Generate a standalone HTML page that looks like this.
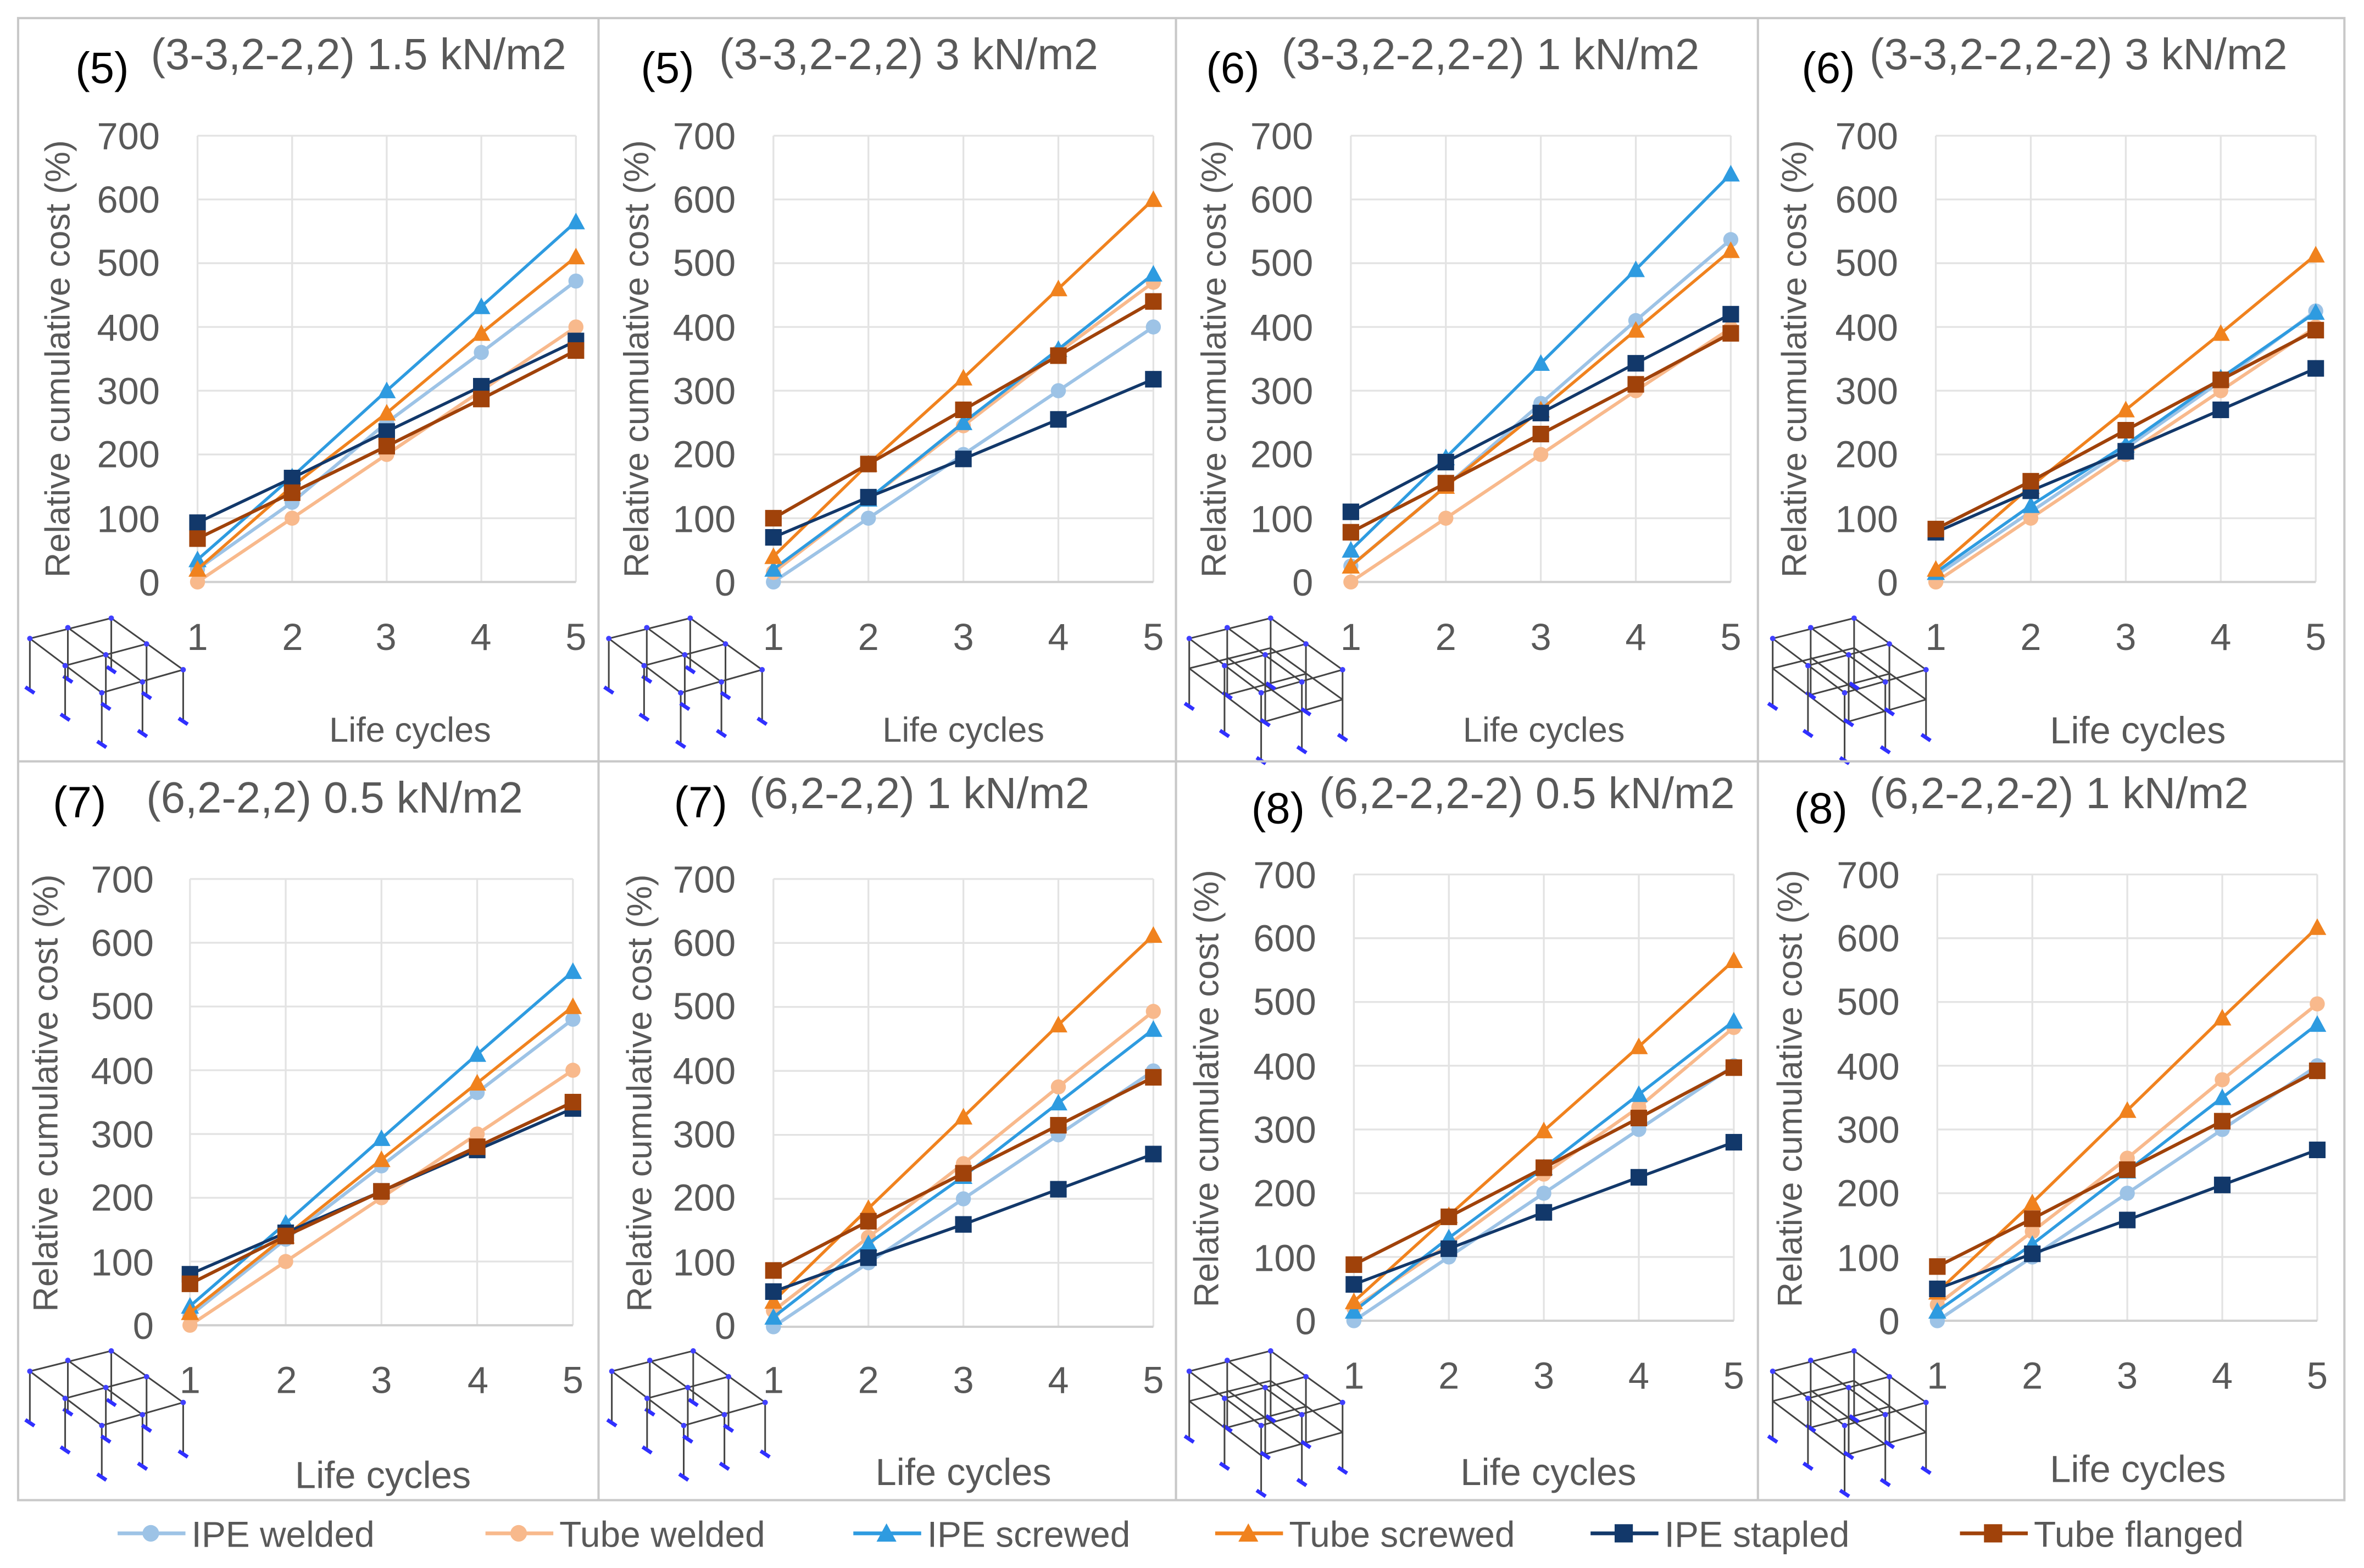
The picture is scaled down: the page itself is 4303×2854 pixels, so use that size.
<!DOCTYPE html>
<html><head><meta charset="utf-8"><style>
html,body{margin:0;padding:0;background:#fff;}
svg{display:block;}
text{font-family:"Liberation Sans",sans-serif;}
.t{font-size:25px;fill:#595959;}
.ti{font-size:29px;fill:#595959;}
.tn{font-size:29px;fill:#000;}
.ax{font-size:23px;fill:#595959;}
.lg{font-size:24px;fill:#595959;}
</style></head><body>
<svg id="s" width="4303" height="2854" viewBox="0 0 1568 1040" xmlns="http://www.w3.org/2000/svg">
<rect x="0" y="0" width="1568" height="1040" fill="#fff"/>
<g id="g"></g>
<g stroke="#c8c8c8" stroke-width="1.5" fill="none">
<rect x="12" y="12" width="1543" height="983"/>
<line x1="397" y1="12" x2="397" y2="995"/><line x1="780" y1="12" x2="780" y2="995"/><line x1="1166" y1="12" x2="1166" y2="995"/>
<line x1="12" y1="505" x2="1555" y2="505"/>
</g>
<!-- titles -->
<text class="tn" x="50" y="55">(5)</text><text class="ti" x="100" y="46">(3-3,2-2,2) 1.5 kN/m2</text>
<text class="tn" x="425" y="55">(5)</text><text class="ti" x="477" y="46">(3-3,2-2,2) 3 kN/m2</text>
<text class="tn" x="800" y="55">(6)</text><text class="ti" x="850" y="46">(3-3,2-2,2-2) 1 kN/m2</text>
<text class="tn" x="1195" y="55">(6)</text><text class="ti" x="1240" y="46">(3-3,2-2,2-2) 3 kN/m2</text>
<text class="tn" x="35" y="542">(7)</text><text class="ti" x="97" y="539">(6,2-2,2) 0.5 kN/m2</text>
<text class="tn" x="447" y="542">(7)</text><text class="ti" x="497" y="536">(6,2-2,2) 1 kN/m2</text>
<text class="tn" x="830" y="546">(8)</text><text class="ti" x="875" y="536">(6,2-2,2-2) 0.5 kN/m2</text>
<text class="tn" x="1190" y="546">(8)</text><text class="ti" x="1240" y="536">(6,2-2,2-2) 1 kN/m2</text>
<!-- y axis titles -->
<text class="ax" transform="translate(46,238) rotate(-90)" text-anchor="middle">Relative cumulative cost (%)</text>
<text class="ax" transform="translate(430,238) rotate(-90)" text-anchor="middle">Relative cumulative cost (%)</text>
<text class="ax" transform="translate(813,238) rotate(-90)" text-anchor="middle">Relative cumulative cost (%)</text>
<text class="ax" transform="translate(1198,238) rotate(-90)" text-anchor="middle">Relative cumulative cost (%)</text>
<text class="ax" transform="translate(38,725) rotate(-90)" text-anchor="middle">Relative cumulative cost (%)</text>
<text class="ax" transform="translate(432,725) rotate(-90)" text-anchor="middle">Relative cumulative cost (%)</text>
<text class="ax" transform="translate(808,722) rotate(-90)" text-anchor="middle">Relative cumulative cost (%)</text>
<text class="ax" transform="translate(1195,722) rotate(-90)" text-anchor="middle">Relative cumulative cost (%)</text>
<!-- x axis titles -->
<text class="ax" x="272" y="492" text-anchor="middle">Life cycles</text>
<text class="ax" x="639" y="492" text-anchor="middle">Life cycles</text>
<text class="ax" x="1024" y="492" text-anchor="middle">Life cycles</text>
<text class="ti" x="1418" y="493" text-anchor="middle" style="font-size:25px">Life cycles</text>
<text class="ti" x="254" y="987" text-anchor="middle" style="font-size:25px">Life cycles</text>
<text class="ti" x="639" y="985" text-anchor="middle" style="font-size:25px">Life cycles</text>
<text class="ti" x="1027" y="985" text-anchor="middle" style="font-size:25px">Life cycles</text>
<text class="ti" x="1418" y="983" text-anchor="middle" style="font-size:25px">Life cycles</text>
<!-- y tick labels -->
<g class="t" text-anchor="end">
<text x="106" y="99">700</text><text x="106" y="141">600</text><text x="106" y="183">500</text><text x="106" y="226">400</text><text x="106" y="268">300</text><text x="106" y="310">200</text><text x="106" y="353">100</text><text x="106" y="395">0</text>
<text x="488" y="99">700</text><text x="488" y="141">600</text><text x="488" y="183">500</text><text x="488" y="226">400</text><text x="488" y="268">300</text><text x="488" y="310">200</text><text x="488" y="353">100</text><text x="488" y="395">0</text>
<text x="871" y="99">700</text><text x="871" y="141">600</text><text x="871" y="183">500</text><text x="871" y="226">400</text><text x="871" y="268">300</text><text x="871" y="310">200</text><text x="871" y="353">100</text><text x="871" y="395">0</text>
<text x="1259" y="99">700</text><text x="1259" y="141">600</text><text x="1259" y="183">500</text><text x="1259" y="226">400</text><text x="1259" y="268">300</text><text x="1259" y="310">200</text><text x="1259" y="353">100</text><text x="1259" y="395">0</text>
<text x="102" y="592">700</text><text x="102" y="634">600</text><text x="102" y="676">500</text><text x="102" y="719">400</text><text x="102" y="761">300</text><text x="102" y="803">200</text><text x="102" y="846">100</text><text x="102" y="888">0</text>
<text x="488" y="592">700</text><text x="488" y="634">600</text><text x="488" y="676">500</text><text x="488" y="719">400</text><text x="488" y="761">300</text><text x="488" y="803">200</text><text x="488" y="846">100</text><text x="488" y="888">0</text>
<text x="873" y="589">700</text><text x="873" y="631">600</text><text x="873" y="673">500</text><text x="873" y="716">400</text><text x="873" y="758">300</text><text x="873" y="800">200</text><text x="873" y="843">100</text><text x="873" y="885">0</text>
<text x="1260" y="589">700</text><text x="1260" y="631">600</text><text x="1260" y="673">500</text><text x="1260" y="716">400</text><text x="1260" y="758">300</text><text x="1260" y="800">200</text><text x="1260" y="843">100</text><text x="1260" y="885">0</text>
</g>
<!-- x tick labels -->
<g class="t" text-anchor="middle">
<text x="131" y="431">1</text><text x="194" y="431">2</text><text x="256" y="431">3</text><text x="319" y="431">4</text><text x="382" y="431">5</text>
<text x="513" y="431">1</text><text x="576" y="431">2</text><text x="639" y="431">3</text><text x="702" y="431">4</text><text x="765" y="431">5</text>
<text x="896" y="431">1</text><text x="959" y="431">2</text><text x="1022" y="431">3</text><text x="1085" y="431">4</text><text x="1148" y="431">5</text>
<text x="1284" y="431">1</text><text x="1347" y="431">2</text><text x="1410" y="431">3</text><text x="1473" y="431">4</text><text x="1536" y="431">5</text>
<text x="126" y="924">1</text><text x="190" y="924">2</text><text x="253" y="924">3</text><text x="317" y="924">4</text><text x="380" y="924">5</text>
<text x="513" y="924">1</text><text x="576" y="924">2</text><text x="639" y="924">3</text><text x="702" y="924">4</text><text x="765" y="924">5</text>
<text x="898" y="921">1</text><text x="961" y="921">2</text><text x="1024" y="921">3</text><text x="1087" y="921">4</text><text x="1150" y="921">5</text>
<text x="1285" y="921">1</text><text x="1348" y="921">2</text><text x="1411" y="921">3</text><text x="1474" y="921">4</text><text x="1537" y="921">5</text>
</g>
<!-- legend -->
<g class="lg">
<text x="127" y="1026">IPE welded</text>
<text x="371" y="1026">Tube welded</text>
<text x="615" y="1026">IPE screwed</text>
<text x="855" y="1026">Tube screwed</text>
<text x="1104" y="1026">IPE stapled</text>
<text x="1349" y="1026">Tube flanged</text>
</g>
</svg>
<script>
var NS="http://www.w3.org/2000/svg",G=document.getElementById("g");
function el(n,a){var e=document.createElementNS(NS,n);for(var k in a)e.setAttribute(k,a[k]);G.appendChild(e);return e;}
var C=["#9dc3e6","#f8b98c","#2e9be0","#f0821e","#12386a","#a0420a"];
var M=["c","c","t","t","s","s"];
var W=[2.2,2.2,2,2,2,2.2];
function mk(x,y,t,c,s){s=s||1;
 if(t=="c")el("circle",{cx:x,cy:y,r:5*s,fill:c});
 else if(t=="t")el("polygon",{points:(x)+","+(y-6*s)+" "+(x-6*s)+","+(y+5*s)+" "+(x+6*s)+","+(y+5*s),fill:c});
 else el("rect",{x:x-5.5*s,y:y-5.5*s,width:11*s,height:11*s,fill:c});}
var P=[
 {x0:131,x1:382,y0:386,y7:90,d:[[20,125,250,360,472],[0,100,200,300,400],[35,165,300,432,565],[20,150,265,390,510],[93,163,236,307,378],[68,140,213,287,363]]},
 {x0:513,x1:765,y0:386,y7:90,d:[[0,100,200,300,400],[15,130,245,360,470],[20,130,250,365,483],[40,185,320,460,600],[70,133,193,255,318],[100,185,270,355,440]]},
 {x0:896,x1:1148,y0:386,y7:90,d:[[25,150,280,410,537],[0,100,200,300,398],[50,195,343,490,640],[25,150,270,395,520],[110,188,265,343,420],[78,155,232,310,390]]},
 {x0:1284,x1:1536,y0:386,y7:90,d:[[10,110,210,315,425],[0,100,200,300,400],[15,120,215,320,423],[20,150,270,390,513],[78,143,205,270,335],[83,158,238,317,395]]},
 {x0:126,x1:380,y0:879,y7:583,d:[[15,135,250,365,480],[0,100,200,300,400],[30,160,293,425,555],[20,140,260,380,500],[80,145,210,275,340],[65,140,210,280,350]]},
 {x0:513,x1:765,y0:880,y7:583,d:[[0,100,200,300,400],[25,140,255,375,493],[15,130,235,350,465],[40,185,328,472,612],[55,108,160,215,270],[88,165,240,315,390]]},
 {x0:898,x1:1150,y0:876,y7:580,d:[[0,100,200,300,400],[20,120,230,335,460],[15,130,240,355,470],[30,165,298,430,565],[57,113,170,225,280],[88,163,240,318,397]]},
 {x0:1285,x1:1537,y0:876,y7:580,d:[[0,100,200,300,400],[25,140,255,378,497],[15,120,235,350,465],[45,185,330,475,617],[50,105,158,213,268],[85,160,237,313,392]]}
];
P.forEach(function(p,pi){
 var dx=(p.x1-p.x0)/4,dy=(p.y0-p.y7)/700;
 for(var i=0;i<=7;i++){var y=p.y0-i*100*dy;el("line",{x1:p.x0,x2:p.x1,y1:y,y2:y,stroke:"#e3e3e3","stroke-width":1.2});}
 for(var i=0;i<5;i++){var x=p.x0+i*dx;el("line",{x1:x,x2:x,y1:p.y7,y2:p.y0,stroke:"#e3e3e3","stroke-width":1.2});}
 el("line",{x1:p.x0,x2:p.x1,y1:p.y0,y2:p.y0,stroke:"#d0d0d0","stroke-width":1.5});
 p.d.forEach(function(s,si){
  var pts=s.map(function(v,i){return (p.x0+i*dx)+","+(p.y0-v*dy);}).join(" ");
  el("polyline",{points:pts,fill:"none",stroke:C[si],"stroke-width":W[si]});
  s.forEach(function(v,i){mk(p.x0+i*dx,p.y0-v*dy,M[si],C[si]);});
 });
 // structure icon
 var ox=[18,402,787,1174,18,404,787,1174][pi],oy=pi<4?410:896,two=(pi==2||pi==3||pi==6||pi==7),sc=0.9;
 var ln=function(a,b,c,d){el("line",{x1:ox+a*sc,y1:oy+b*sc,x2:ox+c*sc,y2:oy+d*sc,stroke:"#444","stroke-width":1.1});};
 var nd=function(a,b){el("circle",{cx:ox+a*sc,cy:oy+b*sc,r:1.8,fill:"#4040ff"});};
 var ft=function(a,b){el("line",{x1:ox+a*sc-3,y1:oy+b*sc-2,x2:ox+a*sc+3,y2:oy+b*sc+2,stroke:"#3030ff","stroke-width":2.5});};
 var lv=two?[0,22]:[0];
 lv.forEach(function(o){
  ln(2,15+o,62,0+o);ln(62,0+o,115,38+o);ln(115,38+o,55,55+o);ln(55,55+o,2,15+o);
  ln(30,7+o,85,47+o);ln(88,19+o,28,35+o);
 });
 [[2,15],[62,0],[115,38],[55,55],[30,7],[85,47],[88,19],[28,35],[58,27]].forEach(function(q){
  var h=two?50:38;ln(q[0],q[1],q[0],q[1]+h);nd(q[0],q[1]);ft(q[0],q[1]+h);
 });
});
// legend
var LX=[78,322,566,806,1055,1300];
LX.forEach(function(x,i){el("line",{x1:x,x2:x+45,y1:1017,y2:1017,stroke:C[i],"stroke-width":2.5});mk(x+22,1017,M[i],C[i],1.1);});
</script>
</body></html>
